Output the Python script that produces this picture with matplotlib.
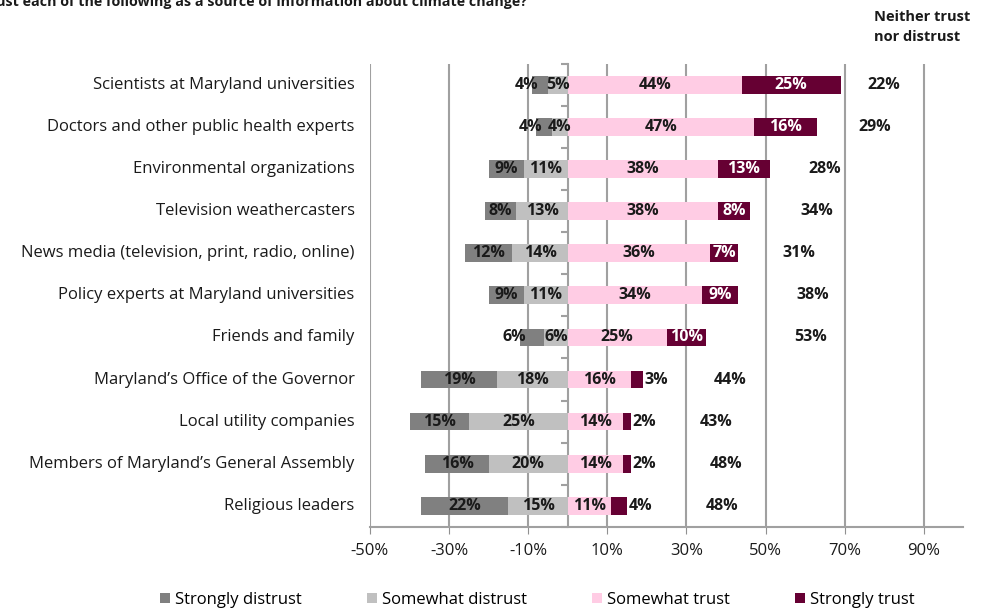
import matplotlib
matplotlib.use('Agg')
import matplotlib.pyplot as plt
import matplotlib.transforms as mtransforms
import numpy as np

plt.rcParams['font.family'] = ['Open Sans', 'DejaVu Sans']

# survey data, percent of respondents
sources = [
    'Scientists at Maryland universities',
    'Doctors and other public health experts',
    'Environmental organizations',
    'Television weathercasters',
    'News media (television, print, radio, online)',
    'Policy experts at Maryland universities',
    'Friends and family',
    'Maryland\u2019s Office of the Governor',
    'Local utility companies',
    'Members of Maryland\u2019s General Assembly',
    'Religious leaders',
]
strongly_distrust = [4, 4, 9, 8, 12, 9, 6, 19, 15, 16, 22]
somewhat_distrust = [5, 4, 11, 13, 14, 11, 6, 18, 25, 20, 15]
somewhat_trust = [44, 47, 38, 38, 36, 34, 25, 16, 14, 14, 11]
strongly_trust = [25, 16, 13, 8, 7, 9, 10, 3, 2, 2, 4]
neither = [22, 29, 28, 34, 31, 38, 53, 44, 43, 48, 48]

xticks = [-50, -30, -10, 10, 30, 50, 70, 90]

c_sd = '#808080'
c_somd = '#c0c0c0'
c_somt = '#ffcce4'
c_st = '#660033'
txt = '#1a1a1a'

fig = plt.figure(figsize=(9.84, 6.14), dpi=100)
ax = fig.add_axes([0.376, 0.142, 0.603, 0.754])

y = np.arange(len(sources))
sd = np.array(strongly_distrust)
somd = np.array(somewhat_distrust)
somt = np.array(somewhat_trust)
st = np.array(strongly_trust)
h = 0.42

ax.barh(y, -somd, height=h, color=c_somd, label='Somewhat distrust', zorder=3)
ax.barh(y, -sd, left=-somd, height=h, color=c_sd, label='Strongly distrust', zorder=3)
ax.barh(y, somt, height=h, color=c_somt, label='Somewhat trust', zorder=3)
ax.barh(y, st, left=somt, height=h, color=c_st, label='Strongly trust', zorder=3)

fs = 11.5
for i in range(len(sources)):
    # distrust side
    ax.text(-somd[i] / 2, i, f'{somd[i]}%', ha='center', va='center',
            fontsize=fs, fontweight='bold', color=txt, zorder=4)
    if sd[i] < 7:
        ax.text(-(somd[i] + sd[i]) + 1.5, i, f'{sd[i]}%', ha='right', va='center',
                fontsize=fs, fontweight='bold', color=txt, zorder=4)
    else:
        ax.text(-somd[i] - sd[i] / 2, i, f'{sd[i]}%', ha='center', va='center',
                fontsize=fs, fontweight='bold', color=txt, zorder=4)
    # trust side
    ax.text(somt[i] / 2, i, f'{somt[i]}%', ha='center', va='center',
            fontsize=fs, fontweight='bold', color=txt, zorder=4)
    if st[i] < 7:
        ax.text(somt[i] + st[i] + 0.4, i, f'{st[i]}%', ha='left', va='center',
                fontsize=fs, fontweight='bold', color=txt, zorder=4)
    else:
        ax.text(somt[i] + st[i] / 2, i, f'{st[i]}%', ha='center', va='center',
                fontsize=fs, fontweight='bold', color='white', zorder=4)
    # neutral share sits past the trust bars
    ax.text(somt[i] + st[i] + neither[i] / 2, i, f'{neither[i]}%', ha='center',
            va='center', fontsize=fs, fontweight='bold', color=txt, zorder=4)

# category names on the left of the plot area
trans = mtransforms.blended_transform_factory(ax.transAxes, ax.transData)
for i, s in enumerate(sources):
    ax.text(-0.026, i, s, transform=trans, ha='right', va='center',
            fontsize=12, color=txt)

ax.set_xlim(-50, 100)
ax.set_ylim(len(sources) - 0.5, -0.5)
ax.set_xticks(xticks)
ax.set_xticklabels([f'{t}%' for t in xticks], fontsize=12, color=txt)
ax.tick_params(axis='x', length=5, color='#909090', pad=7)
for t in xticks:
    ax.axvline(t, color='#a0a0a0', lw=1.5, zorder=1)

# vertical axis through zero with ticks between categories
ax.spines['left'].set_position(('data', 0))
ax.spines['left'].set_color('#a0a0a0')
ax.spines['left'].set_linewidth(1.5)
ax.spines['left'].set_zorder(2)
ax.set_yticks([])
ax.set_yticks(np.arange(len(sources) + 1) - 0.5, minor=True)
ax.tick_params(axis='y', which='minor', length=5, color='#a0a0a0', width=1.5,
               labelleft=False)
ax.spines['bottom'].set_color('#a0a0a0')
ax.spines['bottom'].set_linewidth(1.5)
ax.spines['top'].set_visible(False)
ax.spines['right'].set_visible(False)

fig.text(527 / 984, 1 - 6 / 614,
         'distrust each of the following as a source of information about climate change?',
         ha='right', va='baseline', fontsize=10.3, fontweight='bold', color=txt)
fig.text(874 / 984, 1 - 27 / 614, 'Neither trust\nnor distrust', ha='left',
         va='center', fontsize=10.5, fontweight='bold', color=txt, linespacing=1.5)

handles, labels = ax.get_legend_handles_labels()
order = [1, 0, 2, 3]
fig.legend([handles[k] for k in order], [labels[k] for k in order],
           loc='center', bbox_to_anchor=(0.546, 0.023), ncol=4, frameon=False,
           fontsize=12, handlelength=0.6, handleheight=0.6, handletextpad=0.3,
           columnspacing=3.9)

fig.savefig('out.png', dpi=100)
